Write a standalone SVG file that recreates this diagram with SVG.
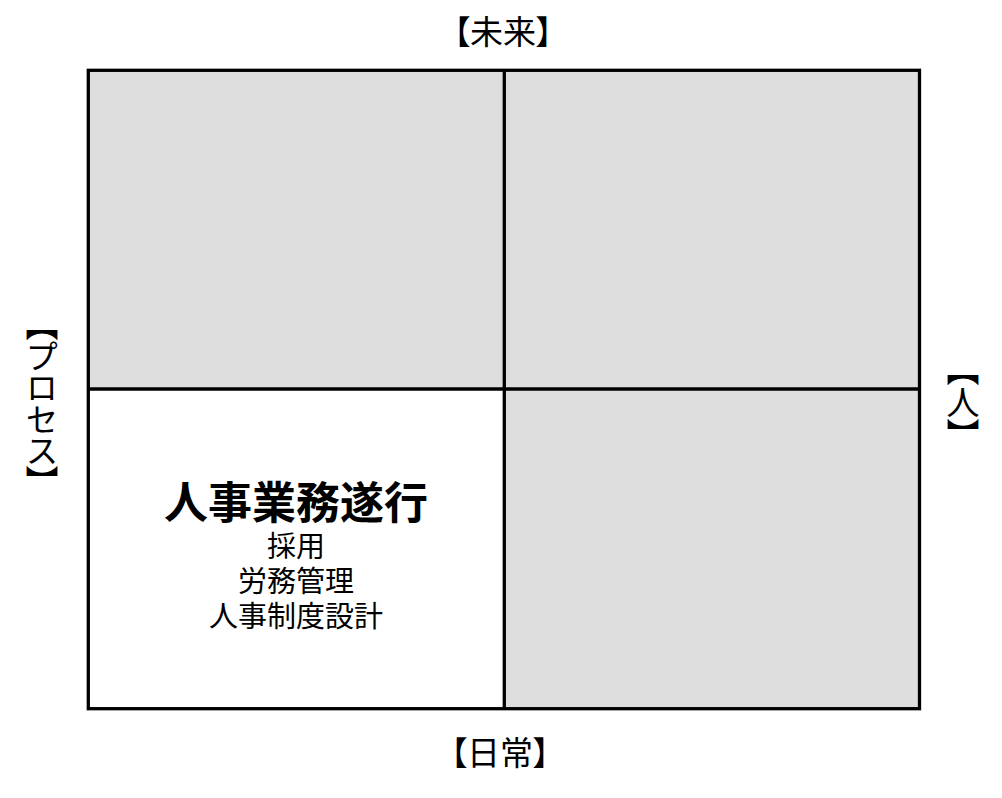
<svg xmlns="http://www.w3.org/2000/svg" width="1002" height="798" viewBox="0 0 1002 798">
<style>
.t{font-family:"Noto Sans CJK JP","Noto Sans CJK SC",sans-serif;fill:#000;text-anchor:middle}
.lbl{font-size:33px;font-feature-settings:"palt"}
.vl{font-size:33px;writing-mode:tb;font-feature-settings:"vpal"}
.sub{font-size:29px}
.cell{stroke:#000;stroke-width:3.3}
.g{fill:#dedede}
</style>
<rect width="1002" height="798" fill="#fff"/>
<g id="quadrants">
<rect id="q-tl" class="g" x="88.3" y="70.3" width="416" height="318.7"/>
<rect id="q-tr" class="g" x="504.3" y="70.3" width="415.2" height="318.7"/>
<rect id="q-bl" fill="#fff" x="88.3" y="389" width="416" height="319.7"/>
<rect id="q-br" class="g" x="504.3" y="389" width="415.2" height="319.7"/>
</g>
<g id="connectors" fill="none" class="cell">
<rect x="88.3" y="70.3" width="831.2" height="638.4" fill="none"/>
<line x1="504.3" y1="70.3" x2="504.3" y2="708.7"/>
<line x1="88.3" y1="389" x2="919.5" y2="389"/>
</g>
<g id="label-top"><text class="t lbl" x="503" y="44">【未来】</text></g>
<g id="label-bottom"><text class="t lbl" x="500" y="765">【日常】</text></g>
<g id="label-left"><text class="t vl" x="42" y="403">【プロセス】</text></g>
<g id="label-right"><text class="t vl" x="963" y="402">【人】</text></g>
<g id="node-bl">
<text class="t" x="296" y="519" font-size="44" font-weight="bold">人事業務遂行</text>
<text class="t sub" x="296" y="557">採用</text>
<text class="t sub" x="296" y="592">労務管理</text>
<text class="t sub" x="296" y="627">人事制度設計</text>
</g>
</svg>
